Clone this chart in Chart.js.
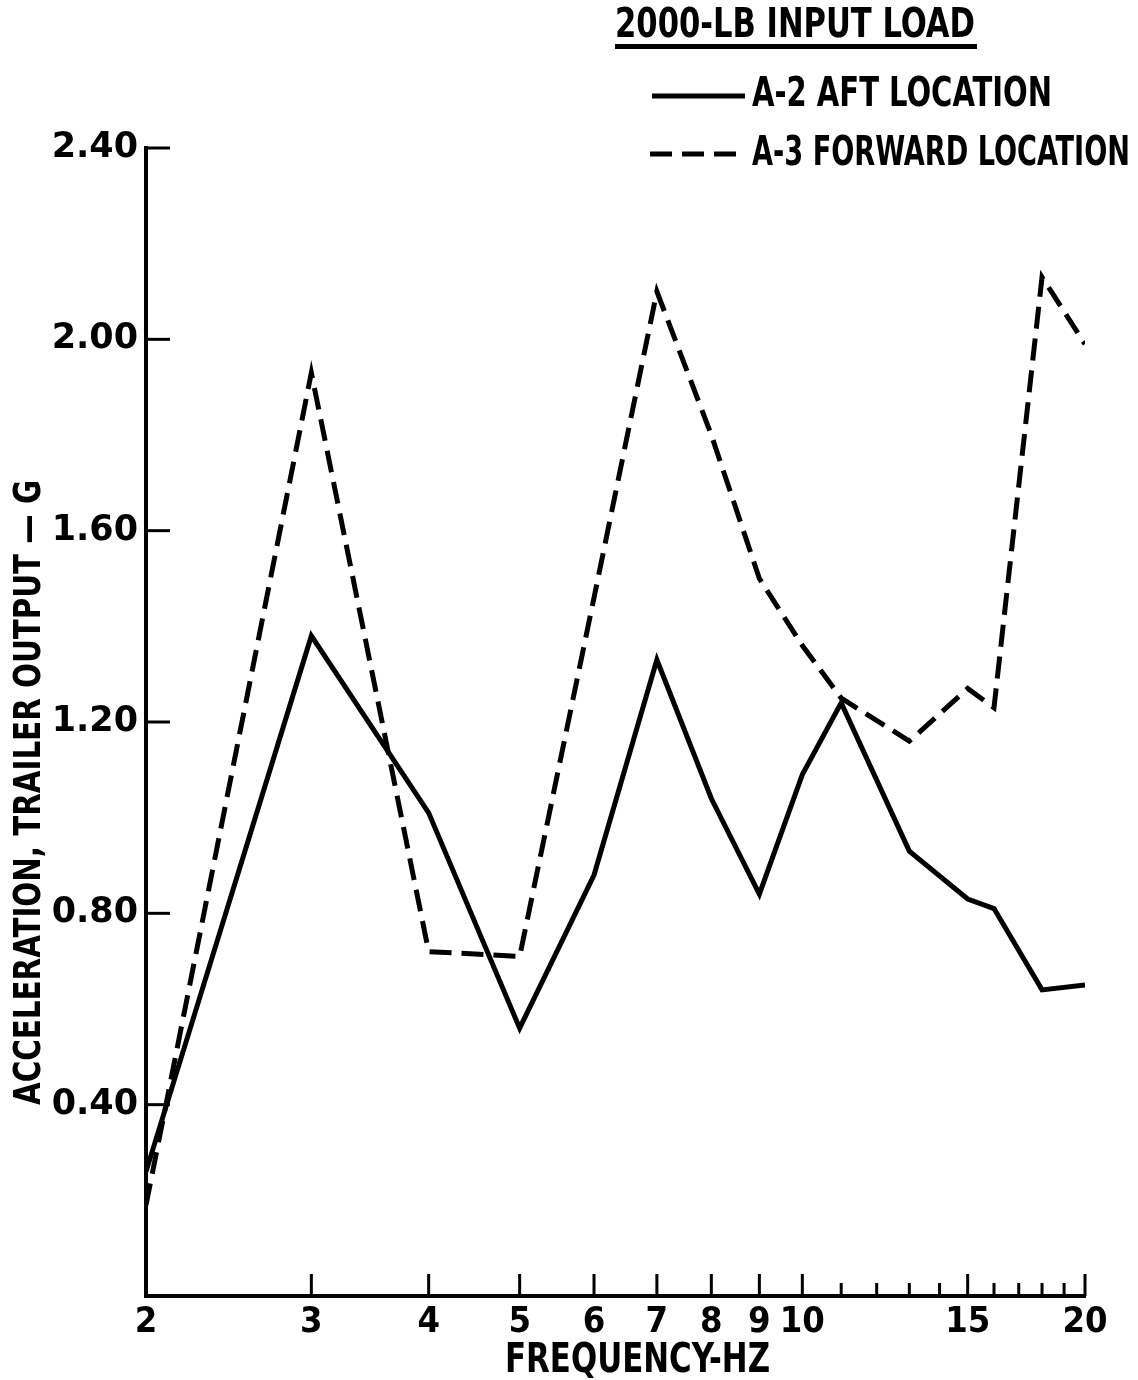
<!DOCTYPE html>
<html>
<head>
<meta charset="utf-8">
<script src="https://cdn.jsdelivr.net/npm/chart.js@4.4.0/dist/chart.umd.min.js"></script>
<style>
  body { margin: 0; background: #fff; }
  #wrap { width: 1138px; height: 1380px; }
</style>
</head>
<body>
<div id="wrap"><canvas id="chart" width="1138" height="1380"></canvas></div>
<script>
// data
const freqs = [2, 3, 4, 5, 6, 7, 8, 9, 10, 11, 13, 15, 16, 18, 20];
const aftLoc = [0.26, 1.38, 1.01, 0.56, 0.88, 1.33, 1.04, 0.84, 1.09, 1.24, 0.93, 0.83, 0.81, 0.64, 0.65];
const fwdLoc = [0.19, 1.93, 0.72, 0.71, 1.46, 2.10, 1.80, 1.50, 1.36, 1.25, 1.16, 1.27, 1.23, 2.13, 1.99];

const xTickValues = [2, 3, 4, 5, 6, 7, 8, 9, 10, 11, 12, 13, 14, 15, 16, 17, 18, 19, 20];
const xLabelValues = [2, 3, 4, 5, 6, 7, 8, 9, 10, 15, 20];
const yTickValues = [0.4, 0.8, 1.2, 1.6, 2.0, 2.4];

const titleText = '2000-LB INPUT LOAD';
const aftLabel = 'A-2 AFT LOCATION';
const fwdLabel = 'A-3 FORWARD LOCATION';
const xTitle = 'FREQUENCY-HZ';
const yTitle = 'ACCELERATION, TRAILER OUTPUT \u2014 G';

const NARROW = "'DejaVu Sans Condensed', 'Liberation Sans Narrow', 'DejaVu Sans', sans-serif";
const DASH = [22, 10];

// draw text squeezed to a given width
function fitText(ctx, text, x, y, w, size) {
    ctx.font = `bold ${size}px ${NARROW}`;
    const m = ctx.measureText(text).width;
    ctx.save();
    ctx.translate(x, y);
    ctx.scale(w / m, 1);
    ctx.textAlign = 'left';
    ctx.textBaseline = 'middle';
    ctx.fillText(text, 0, 0);
    ctx.restore();
}

function line(ctx, x1, y1, x2, y2) {
    ctx.beginPath();
    ctx.moveTo(x1, y1);
    ctx.lineTo(x2, y2);
    ctx.stroke();
}

const decor = {
    id: 'decor',
    afterDraw(chart) {
        const ctx = chart.ctx;
        const area = chart.chartArea;
        const xs = chart.scales.x;
        const ys = chart.scales.y;

        ctx.save();
        ctx.strokeStyle = '#000';
        ctx.fillStyle = '#000';
        ctx.lineWidth = 3;

        // inward tick marks
        yTickValues.forEach(v => {
            const py = ys.getPixelForValue(v);
            line(ctx, area.left, py, area.left + 24, py);
        });
        xTickValues.forEach(v => {
            const px = xs.getPixelForValue(v);
            const len = xLabelValues.includes(v) ? 22 : 13;
            line(ctx, px, area.bottom, px, area.bottom - len);
        });

        // title + underline
        fitText(ctx, titleText, 615, 27, 360, 40);
        ctx.fillRect(615, 44, 362, 5);

        // legend
        ctx.lineWidth = 5;
        line(ctx, 652, 96, 745, 96);
        fitText(ctx, aftLabel, 752, 96, 300, 40);
        ctx.setLineDash(DASH);
        line(ctx, 650, 154, 745, 154);
        ctx.setLineDash([]);
        fitText(ctx, fwdLabel, 752, 155, 378, 40);

        // axis titles
        fitText(ctx, xTitle, 505, 1362, 265, 40);
        ctx.save();
        ctx.translate(30, 1105);
        ctx.rotate(-Math.PI / 2);
        fitText(ctx, yTitle, 0, 0, 625, 38);
        ctx.restore();

        ctx.restore();
    }
};

new Chart(document.getElementById('chart'), {
    type: 'line',
    data: {
        datasets: [
            {
                label: aftLabel,
                data: freqs.map((f, i) => ({ x: f, y: aftLoc[i] })),
                borderColor: '#000',
                borderWidth: 5,
                pointRadius: 0,
                tension: 0
            },
            {
                label: fwdLabel,
                data: freqs.map((f, i) => ({ x: f, y: fwdLoc[i] })),
                borderColor: '#000',
                borderWidth: 5,
                borderDash: DASH,
                pointRadius: 0,
                tension: 0
            }
        ]
    },
    options: {
        responsive: false,
        animation: false,
        layout: { padding: { top: 148, right: 53, left: 0, bottom: 0 } },
        plugins: {
            legend: { display: false },
            tooltip: { enabled: false }
        },
        scales: {
            x: {
                type: 'logarithmic',
                min: 2,
                max: 20,
                afterBuildTicks: s => { s.ticks = xTickValues.map(v => ({ value: v })); },
                afterFit: s => { s.height = 84; },
                grid: { display: false, drawTicks: false },
                border: { display: true, color: '#000', width: 4 },
                ticks: {
                    autoSkip: false,
                    maxRotation: 0,
                    padding: 5,
                    color: '#000',
                    font: { family: NARROW, size: 36, weight: 'bold' },
                    callback: v => xLabelValues.includes(v) ? String(v) : ''
                }
            },
            y: {
                min: 0,
                max: 2.4,
                afterBuildTicks: s => { s.ticks = yTickValues.map(v => ({ value: v })); },
                afterFit: s => { s.width = 146; },
                grid: { display: false, drawTicks: false },
                border: { display: true, color: '#000', width: 4 },
                ticks: {
                    padding: 8,
                    color: '#000',
                    font: { family: "'DejaVu Sans', sans-serif", size: 35, weight: 'bold' },
                    callback: v => Number(v).toFixed(2)
                }
            }
        }
    },
    plugins: [decor]
});
</script>
</body>
</html>
